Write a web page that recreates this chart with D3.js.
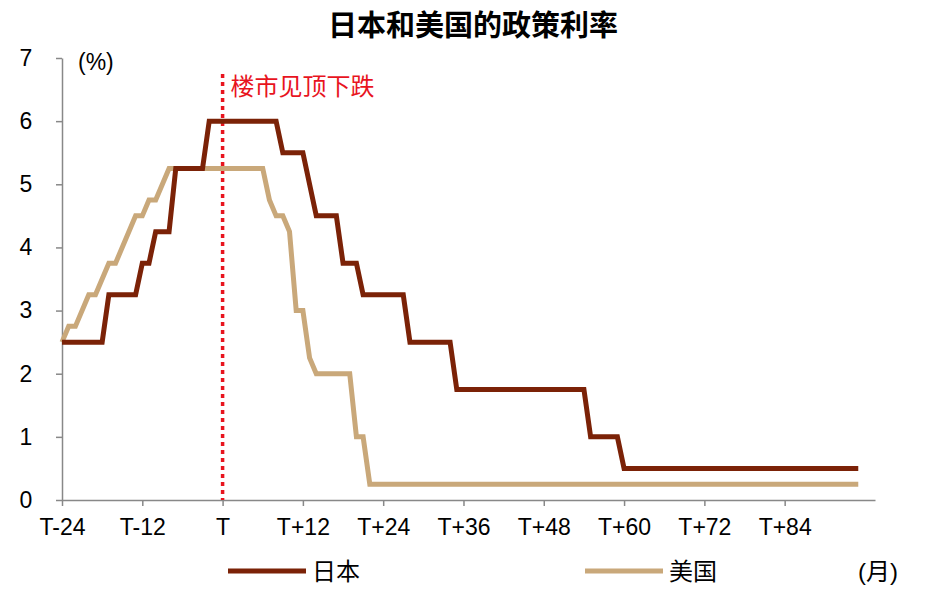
<!DOCTYPE html>
<html><head><meta charset="utf-8">
<script src="https://cdn.jsdelivr.net/npm/d3@7"></script>
<style>body{margin:0;background:#fff;font-family:Arial,"Liberation Sans","Noto Sans CJK SC",sans-serif}</style>
</head><body><div id="chart"></div>
<script>
// vertices: month offset from peak (T) and policy rate, %
const japanMonths = [-24,-18,-17,-13,-12,-11,-10,-8,-7,-3,-2,8,9,12,14,17,18,20,21,27,28,34,35,54,55,59,60,95];
const japanRates  = [2.5,2.5,3.25,3.25,3.75,3.75,4.25,4.25,5.25,5.25,6,6,5.5,5.5,4.5,4.5,3.75,3.75,3.25,3.25,2.5,2.5,1.75,1.75,1,1,0.5,0.5];
const usMonths = [-24,-23,-22,-20,-19,-17,-16,-13,-12,-11,-10,-8,6,7,8,9,10,11,12,13,14,19,20,21,22,95];
const usRates  = [2.5,2.75,2.75,3.25,3.25,3.75,3.75,4.5,4.5,4.75,4.75,5.25,5.25,4.75,4.5,4.5,4.25,3,3,2.25,2,2,1,1,0.25,0.25];
const xTicks = [-24,-12,0,12,24,36,48,60,72,84];
const xTickLabels = ["T-24","T-12","T","T+12","T+24","T+36","T+48","T+60","T+72","T+84"];
const yTicks = [0,1,2,3,4,5,6,7];

const W=933,H=594;
const svg=d3.select("#chart").append("svg").attr("width",W).attr("height",H);
const x=d3.scaleLinear().domain([-24,97.5]).range([62,875]);
const y=d3.scaleLinear().domain([0,7]).range([500,58]);

svg.append("text").attr("x",473).attr("y",36).attr("text-anchor","middle")
  .style("font-size","29px").style("font-weight","bold").text("日本和美国的政策利率");

const ax=svg.append("g").attr("transform","translate(0,500)")
  .call(d3.axisBottom(x).tickValues(xTicks).tickFormat((d,i)=>xTickLabels[i]).tickSize(6).tickSizeOuter(0));
const ay=svg.append("g").attr("transform","translate(62,0)")
  .call(d3.axisLeft(y).tickValues(yTicks).tickFormat(d3.format("d")).tickSize(6).tickSizeOuter(0));
[ax,ay].forEach(g=>{g.selectAll("path,line").attr("stroke","#888").attr("stroke-width",1.5);
  g.selectAll("text").style("font-size","23px").attr("fill","#000").style("font-family","Arial,'Liberation Sans',sans-serif");});
ax.selectAll("text").attr("dy","1.15em");
ay.selectAll("text").attr("dx","-0.9em");

svg.append("text").attr("x",78).attr("y",70).style("font-size","23px").text("(%)");

svg.append("line").attr("x1",x(0)).attr("x2",x(0)).attr("y1",74).attr("y2",500)
  .attr("stroke","#e8141e").attr("stroke-width",3.5).attr("stroke-dasharray","4,4");
svg.append("text").attr("x",x(0)+8).attr("y",95).attr("fill","#e8141e").style("font-size","24px").text("楼市见顶下跌");

const line=d3.line().x(d=>x(d[0])).y(d=>y(d[1]));
svg.append("path").datum(usMonths.map((m,i)=>[m,usRates[i]])).attr("d",line)
  .attr("fill","none").attr("stroke","#c9a87a").attr("stroke-width",5);
svg.append("path").datum(japanMonths.map((m,i)=>[m,japanRates[i]])).attr("d",line)
  .attr("fill","none").attr("stroke","#7b2207").attr("stroke-width",5);

const leg=[["日本","#7b2207",228],["美国","#c9a87a",585]];
leg.forEach(([t,c,lx])=>{
  svg.append("line").attr("x1",lx).attr("x2",lx+78).attr("y1",571).attr("y2",571).attr("stroke",c).attr("stroke-width",5);
  svg.append("text").attr("x",lx+84).attr("y",580).style("font-size","24px").text(t);
});
svg.append("text").attr("x",858).attr("y",580).style("font-size","24px").text("(月)");
</script></body></html>
